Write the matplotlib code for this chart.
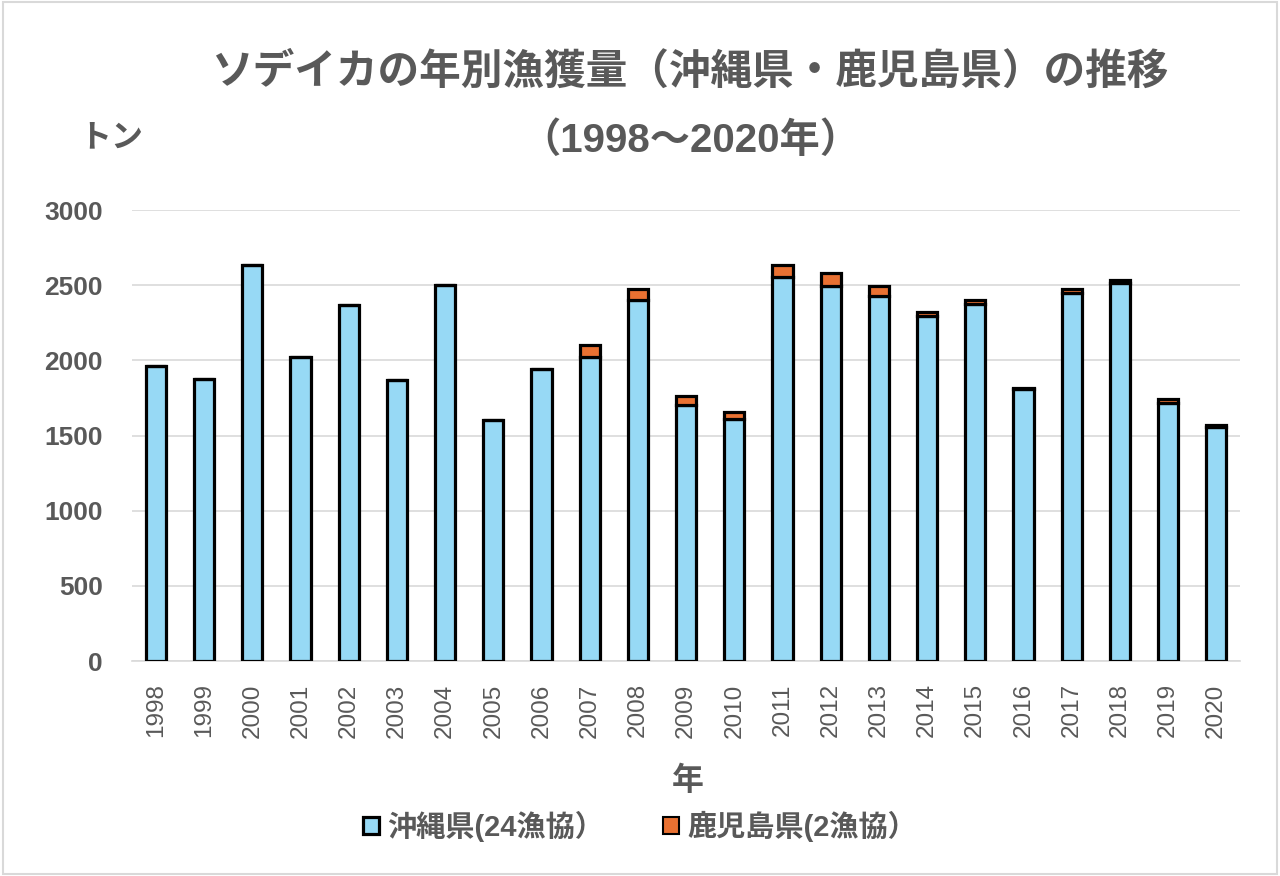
import matplotlib.pyplot as plt
from matplotlib.patches import Rectangle, Patch
import numpy as np

plt.rcParams['font.family'] = ['Liberation Sans', 'Noto Sans CJK JP', 'DejaVu Sans']

years = [str(y) for y in range(1998, 2021)]
okinawa = [1962, 1879, 2637, 2022, 2371, 1872, 2504, 1603, 1946, 2022, 2405, 1706,
           1613, 2554, 2498, 2431, 2298, 2378, 1810, 2448, 2514, 1716, 1560]
kagoshima = [0, 0, 0, 0, 0, 0, 0, 0, 0, 83, 70, 57,
             43, 80, 83, 67, 23, 27, 3, 30, 24, 27, 10]
yticks = [0, 500, 1000, 1500, 2000, 2500, 3000]

grey = '#595959'
blue = '#97D9F5'
orange = '#E97132'
jp = ['Noto Sans CJK JP', 'DejaVu Sans']

fig = plt.figure(figsize=(12.8, 8.76), dpi=100)
ax = fig.add_axes([0.103, 0.2454, 0.866, 0.5148])

x = np.arange(len(years))
ax.bar(x, okinawa, width=0.42, color=blue, edgecolor='black', linewidth=2.3, zorder=3)
ax.bar(x, kagoshima, width=0.42, bottom=okinawa, color=orange, edgecolor='black',
       linewidth=2.3, zorder=3)

ax.set_xlim(-0.5, len(years) - 0.5)
ax.set_ylim(0, 3000)
ax.set_yticks(yticks)
ax.set_yticklabels([str(v) for v in yticks], fontsize=19, fontweight='bold', color=grey)
ax.set_xticks(x)
ax.set_xticklabels(years, rotation=90, fontsize=17.5, color=grey)
ax.tick_params(axis='y', length=0, pad=21)
ax.tick_params(axis='x', length=0, pad=16)
ax.grid(axis='y', color='#d9d9d9', linewidth=1.2, zorder=0)
for s in ['top', 'right', 'left']:
    ax.spines[s].set_visible(False)
ax.spines['bottom'].set_color('#d9d9d9')
ax.spines['bottom'].set_linewidth(1.2)

fig.text(0.539, 0.918, 'ソデイカの年別漁獲量（沖縄県・鹿児島県）の推移', ha='center', va='center',
         fontsize=30, fontweight='bold', color=grey, family=jp)
fig.text(0.539, 0.840, '（1998～2020年）', ha='center', va='center',
         fontsize=29, fontweight='bold', color=grey)
fig.text(0.087, 0.843, 'トン', ha='center', va='center', fontsize=23, fontweight='bold',
         color=grey, family=jp)
fig.text(0.537, 0.108, '年', ha='center', va='center', fontsize=23, fontweight='bold',
         color=grey, family=jp)

handles = [Patch(facecolor=blue, edgecolor='black', linewidth=2.3),
           Patch(facecolor=orange, edgecolor='black', linewidth=1.5)]
fig.legend(handles, ['沖縄県(24漁協）', '鹿児島県(2漁協）'], loc='center', bbox_to_anchor=(0.5, 0.057),
           ncol=2, frameon=False, handlelength=0.55, handleheight=0.55, handletextpad=0.3,
           columnspacing=2.0, prop={'size': 21, 'weight': 'bold'}, labelcolor=grey)

fig.patches.append(Rectangle((0.002, 0.002), 0.996, 0.996, transform=fig.transFigure,
                             fill=False, edgecolor='#d9d9d9', linewidth=1.5))

fig.savefig('out.png', dpi=100)
